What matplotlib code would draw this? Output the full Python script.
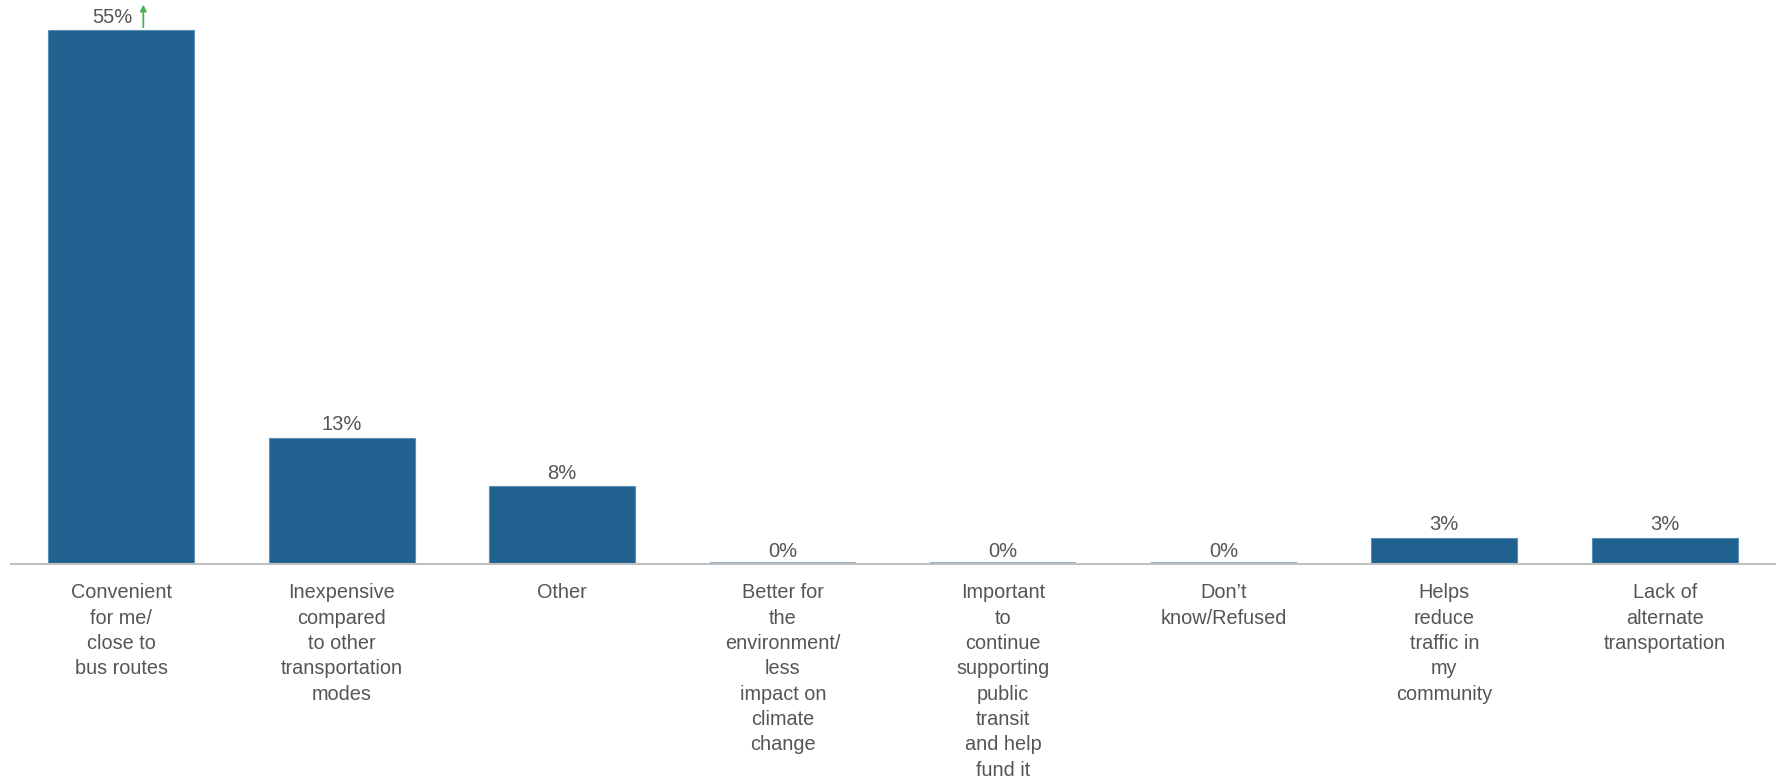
import matplotlib.pyplot as plt
import numpy as np

plt.rcParams['font.family'] = ['Liberation Sans', 'DejaVu Sans']

categories = [
    "Convenient\nfor me/\nclose to\nbus routes",
    "Inexpensive\ncompared\nto other\ntransportation\nmodes",
    "Other",
    "Better for\nthe\nenvironment/\nless\nimpact on\nclimate\nchange",
    "Important\nto\ncontinue\nsupporting\npublic\ntransit\nand help\nfund it",
    "Don\u2019t\nknow/Refused",
    "Helps\nreduce\ntraffic in\nmy\ncommunity",
    "Lack of\nalternate\ntransportation",
]
values = [55, 13, 8, 0, 0, 0, 2.7, 2.7]
labels = ["55%", "13%", "8%", "0%", "0%", "0%", "3%", "3%"]

bar_color = "#20618f"
text_color = "#555555"

fig = plt.figure(figsize=(17.78, 7.81), dpi=100)
ax = fig.add_axes([11 / 1778, (781 - 564) / 781, 1764 / 1778, 564 / 781])

x = np.arange(len(categories))
for xi, v in zip(x, values):
    if v > 0:
        ax.bar(xi, v, width=0.66, color=bar_color, edgecolor="#5a8fb5", linewidth=0.8)
    else:
        ax.bar(xi, 0.25, width=0.66, color="#8fb3cf", linewidth=0)

for xi, v, lab in zip(x, values, labels):
    dx = -0.04 if xi == 0 else 0
    ax.text(xi + dx, v + 0.35, lab, ha="center", va="bottom", fontsize=14.5, color=text_color)

# arrow showing the bar is cut off
ax.annotate("", xy=(0.1, 57.9), xytext=(0.1, 55),
            arrowprops=dict(arrowstyle="-|>", color="#4caf50", lw=1.3, mutation_scale=9),
            annotation_clip=False)

ax.set_xlim(-0.5, len(categories) - 0.5)
ax.set_ylim(0, 58.09)
ax.set_xticks(x)
ax.set_xticklabels(categories, fontsize=14.3, color=text_color, linespacing=1.42)
ax.tick_params(axis="x", length=0, pad=14)
ax.set_yticks([])
for s in ["top", "right", "left"]:
    ax.spines[s].set_visible(False)
ax.spines["bottom"].set_color("#c0c0c0")
ax.spines["bottom"].set_linewidth(1.5)

fig.savefig("out.png", dpi=100)
